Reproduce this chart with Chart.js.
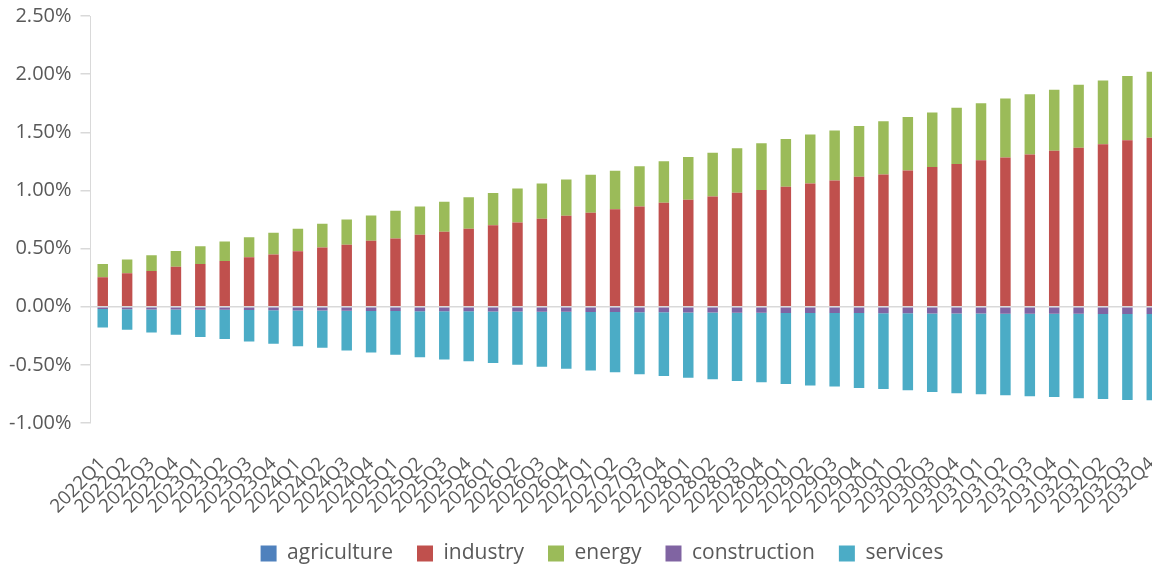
<!DOCTYPE html>
<html>
<head>
<meta charset="utf-8">
<title>Sector contributions</title>
<script src="https://cdn.jsdelivr.net/npm/chart.js@4"></script>
<style>
  html, body { margin:0; padding:0; background:#fff; overflow:hidden; }
  #wrap { width:1152px; height:564px; overflow:hidden; position:relative; }
  #chart-sectores { position:absolute; left:0; top:-5px; }
</style>
</head>
<body>
<div id="wrap"><canvas id="chart-sectores" width="1200" height="579"></canvas></div>
<script>
/* quarters 2022Q1 .. 2032Q4 */
var quarters = [
  '2022Q1','2022Q2','2022Q3','2022Q4','2023Q1','2023Q2','2023Q3','2023Q4',
  '2024Q1','2024Q2','2024Q3','2024Q4','2025Q1','2025Q2','2025Q3','2025Q4',
  '2026Q1','2026Q2','2026Q3','2026Q4','2027Q1','2027Q2','2027Q3','2027Q4',
  '2028Q1','2028Q2','2028Q3','2028Q4','2029Q1','2029Q2','2029Q3','2029Q4',
  '2030Q1','2030Q2','2030Q3','2030Q4','2031Q1','2031Q2','2031Q3','2031Q4',
  '2032Q1','2032Q2','2032Q3','2032Q4'
];

// contributions, in percent
var agriculture = [
  0,0,0,0,0,0,0,0,0,0,0,0,0,0,0,0,0,0,0,0,0,0,
  0,0,0,0,0,0,0,0,0,0,0,0,0,0,0,0,0,0,0,0,0,0
];
var industry = [
  0.253,0.287,0.308,0.343,0.368,0.394,0.425,0.448,0.477,0.509,0.532,
  0.567,0.586,0.618,0.644,0.670,0.701,0.724,0.756,0.782,0.808,0.839,
  0.862,0.894,0.920,0.948,0.980,1.003,1.032,1.060,1.086,1.118,1.138,
  1.172,1.201,1.227,1.259,1.284,1.310,1.342,1.368,1.397,1.431,1.454
];
var energy = [
  0.115,0.118,0.134,0.137,0.152,0.166,0.173,0.187,0.193,0.204,0.218,
  0.217,0.239,0.244,0.259,0.272,0.276,0.293,0.304,0.313,0.327,0.331,
  0.345,0.356,0.367,0.377,0.382,0.402,0.410,0.420,0.429,0.436,0.457,
  0.460,0.469,0.483,0.491,0.507,0.518,0.523,0.540,0.549,0.554,0.566
];
var construction = [
  -0.020,-0.021,-0.023,-0.024,-0.026,-0.027,-0.029,-0.030,-0.032,-0.033,-0.035,
  -0.036,-0.037,-0.038,-0.039,-0.040,-0.041,-0.042,-0.043,-0.044,-0.045,-0.046,
  -0.047,-0.048,-0.049,-0.050,-0.051,-0.052,-0.053,-0.054,-0.055,-0.055,-0.056,
  -0.057,-0.058,-0.058,-0.059,-0.060,-0.060,-0.061,-0.061,-0.062,-0.062,-0.063
];
var services = [
  -0.158,-0.177,-0.198,-0.217,-0.235,-0.251,-0.270,-0.289,-0.307,-0.320,-0.342,
  -0.358,-0.377,-0.396,-0.415,-0.428,-0.444,-0.458,-0.474,-0.490,-0.504,-0.517,
  -0.534,-0.547,-0.561,-0.573,-0.587,-0.597,-0.611,-0.624,-0.632,-0.643,-0.651,
  -0.661,-0.675,-0.686,-0.694,-0.701,-0.710,-0.715,-0.726,-0.731,-0.740,-0.741
];

var Y_MIN = -1, Y_MAX = 2.5, Y_STEP = 0.5;

var FONT = "'Open Sans', sans-serif";
var TXT = '#595959';
var LINE = '#d9d9d9';

function serie(label, data, color) {
  return { label:label, data:data, backgroundColor:color, borderWidth:0,
           barPercentage:0.43, categoryPercentage:1 };
}

// legend sits centred on the whole canvas, not on the padded area
var legendShift = {
  id: 'legendShift',
  afterLayout: function(chart) {
    if (!chart.legend) return;
    chart.legend.left += 20;
    chart.legend.right += 20;
  }
};

new Chart(document.getElementById('chart-sectores').getContext('2d'), {
  type: 'bar',
  data: {
    labels: quarters,
    datasets: [
      serie('agriculture',  agriculture,  '#4F81BD'),
      serie('industry',     industry,     '#C0504D'),
      serie('energy',       energy,       '#9BBB59'),
      serie('construction', construction, '#8064A2'),
      serie('services',     services,     '#4BACC6')
    ]
  },
  plugins: [legendShift],
  options: {
    responsive: false,
    animation: false,
    layout: { padding: { left:0, right:36, top:0, bottom:0 } },
    plugins: {
      tooltip: { enabled:false },
      legend: {
        position: 'bottom',
        labels: { font:{ family:FONT, size:21 }, color:TXT, boxWidth:16, boxHeight:16, padding:24 }
      }
    },
    scales: {
      x: {
        stacked: true,
        grid: { display:false },
        border: { display:false },
        ticks: { autoSkip:false, maxRotation:45, minRotation:45, font:{ family:FONT, size:19 }, color:TXT, padding:22 },
        // fixed band for the slanted quarter labels
        afterFit: function(s) { s.height = 96; }
      },
      y: {
        stacked: true,
        min: Y_MIN, max: Y_MAX,
        border: { display:true, color:LINE, width:1 },
        grid: {
          color: function(c) { return c.tick && c.tick.value === 0 ? LINE : 'rgba(0,0,0,0)'; },
          lineWidth: 1.5,
          tickColor: LINE,
          tickLength: 10
        },
        ticks: {
          stepSize: Y_STEP,
          font: { family:FONT, size:20 }, color:TXT, padding:9,
          callback: function(v) { return v.toFixed(2) + '%'; }
        }
      }
    }
  }
});
</script>
</body>
</html>
